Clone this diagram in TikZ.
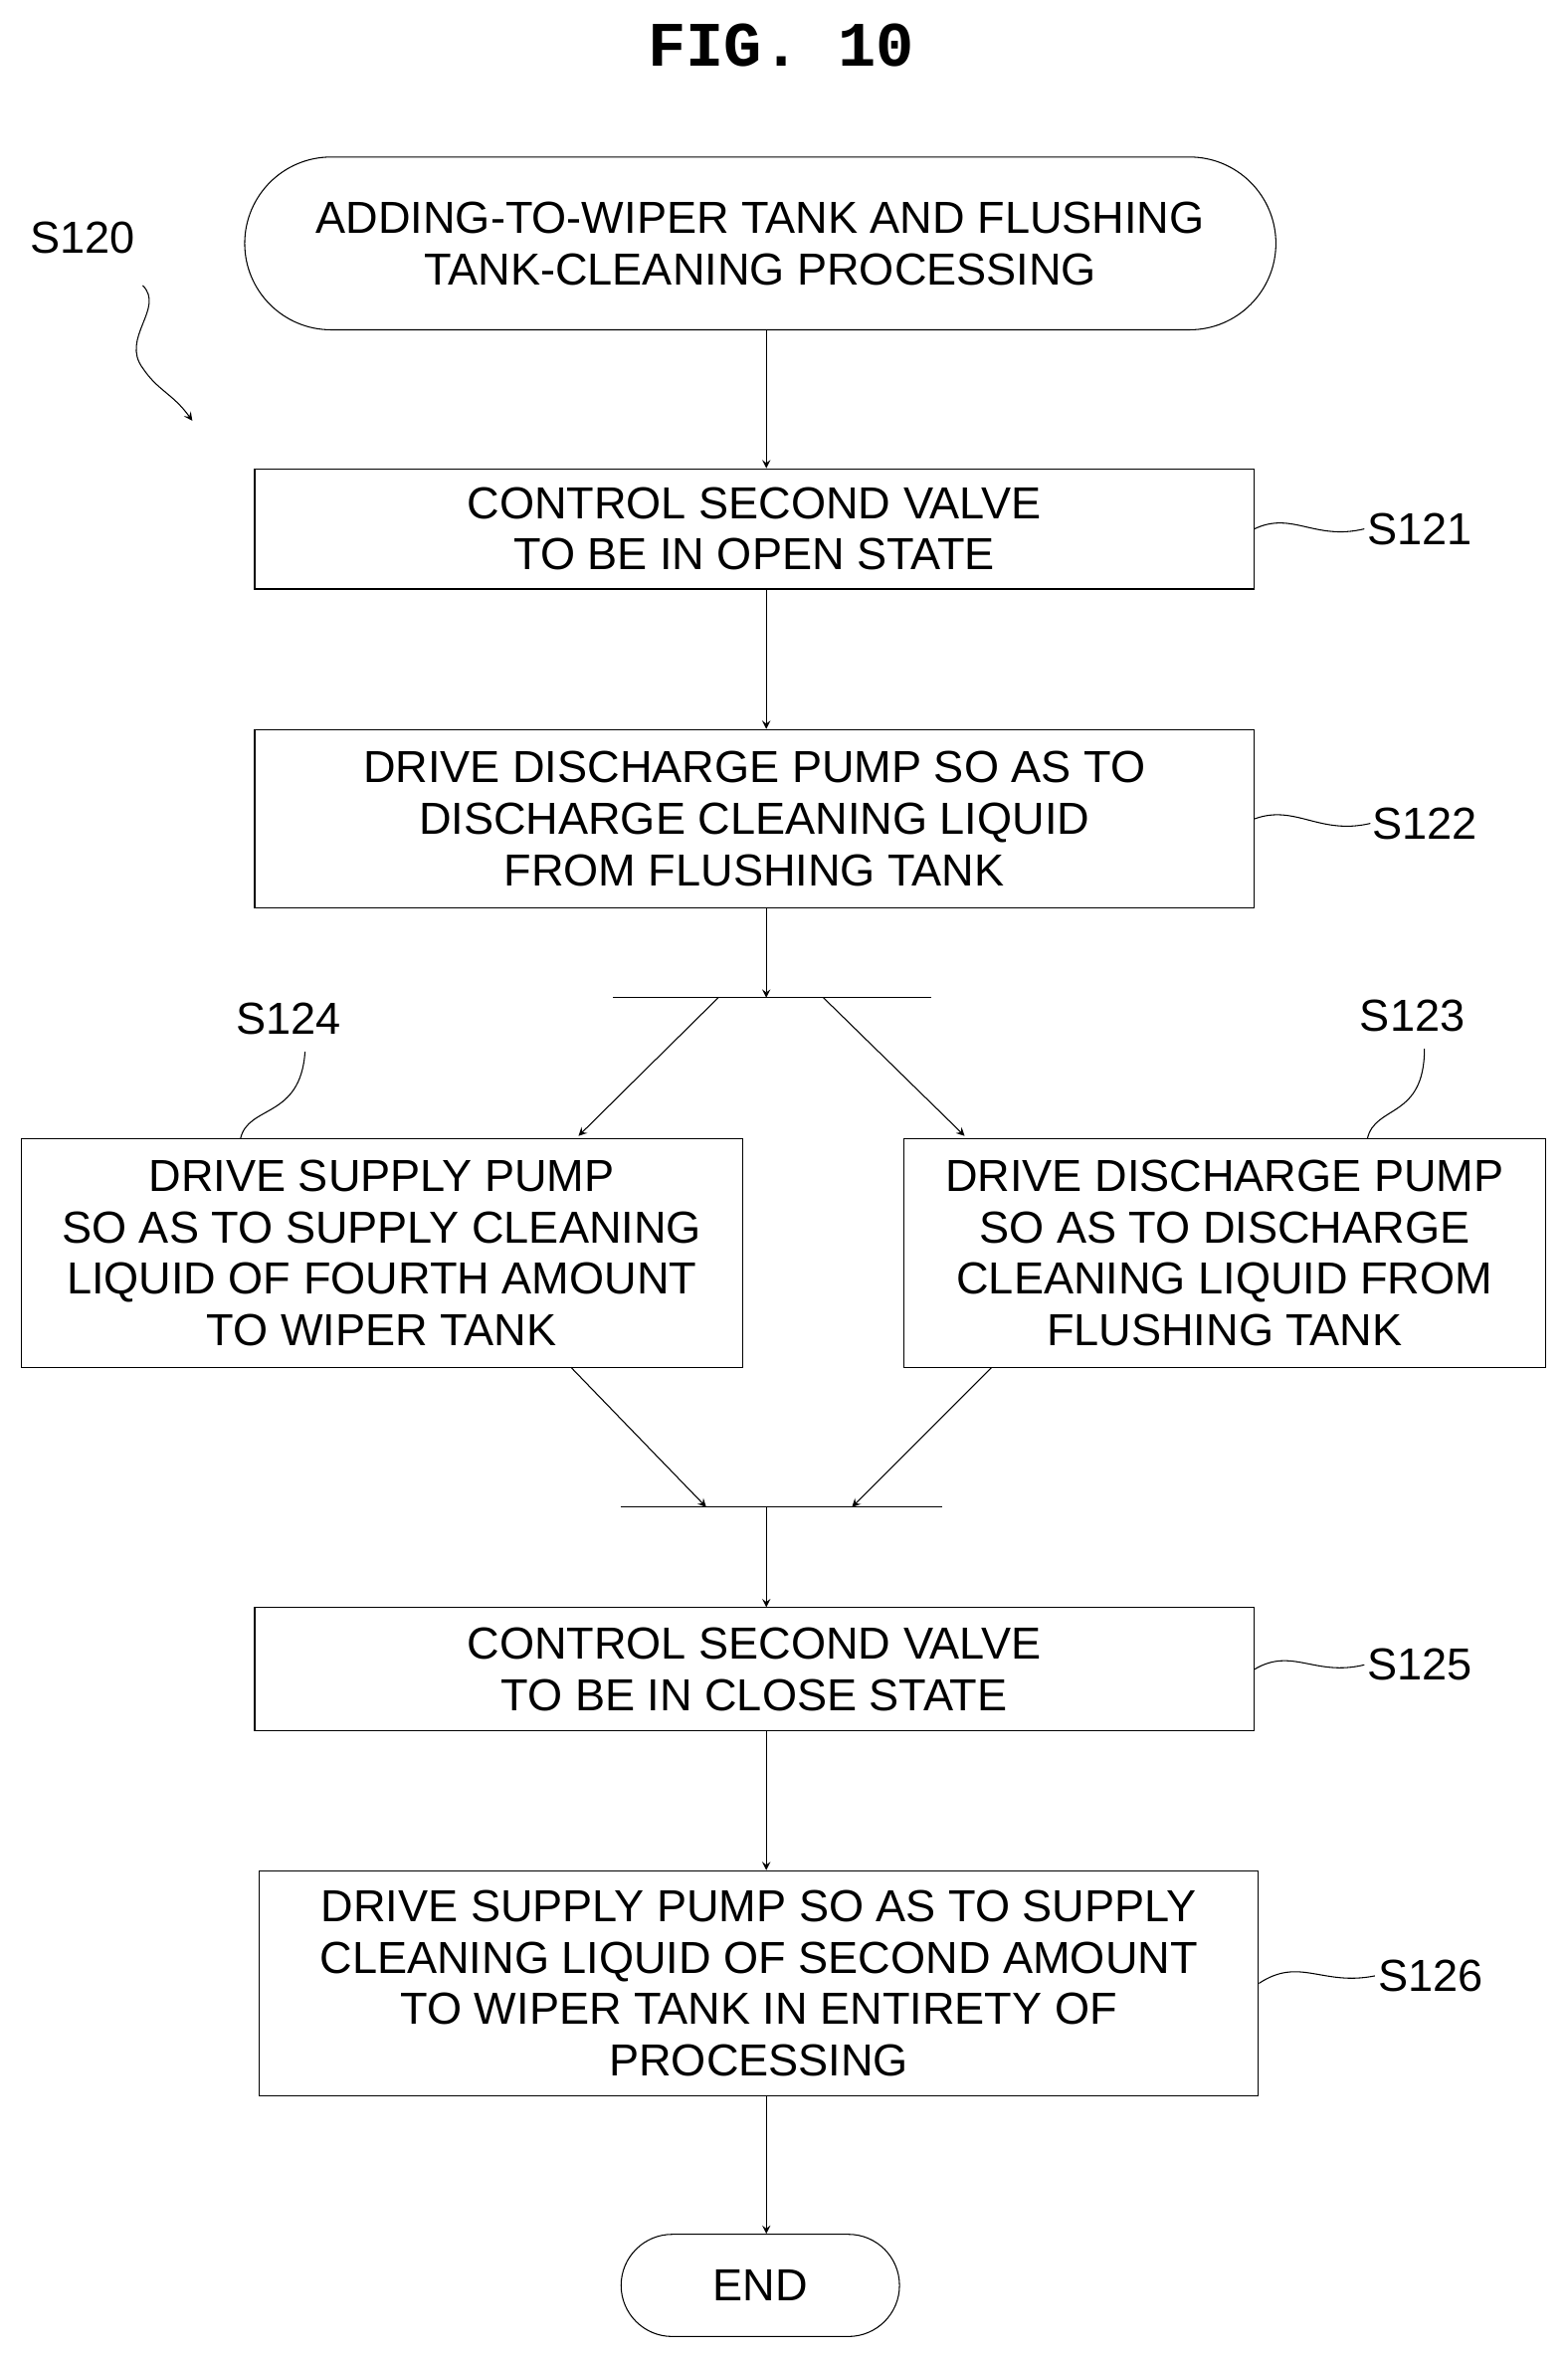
\documentclass[tikz,border=0pt]{standalone}
\usepackage{fontspec}
\setmainfont{Liberation Sans}
\newfontfamily\figfont{Liberation Mono}
\usetikzlibrary{shapes.misc}
\tikzset{
  box/.style={draw,thin,align=center,font=\fontsize{17}{19.5}\selectfont},
  term/.style={box,rounded rectangle},
  lbl/.style={font=\fontsize{17}{19}\selectfont},
  flow/.style={->,thin},
  bar/.style={thin},
}
\begin{document}
\begin{tikzpicture}[x=0.02cm,y=-0.02cm,>=stealth]
  \useasboundingbox (0,0) rectangle (1043,1568);
  \node[font=\figfont\bfseries\fontsize{24}{26}\selectfont] (fig) at (520,30) {FIG. 10};

  % terminators and steps
  \node[term,minimum width=698*0.02cm,minimum height=115*0.02cm] (start) at (506,162)
    {ADDING-TO-WIPER TANK AND FLUSHING\\TANK-CLEANING PROCESSING};
  \node[box,minimum width=665*0.02cm,minimum height=80*0.02cm] (s121) at (502,352)
    {CONTROL SECOND VALVE\\TO BE IN OPEN STATE};
  \node[box,minimum width=665*0.02cm,minimum height=119*0.02cm] (s122) at (502,545)
    {DRIVE DISCHARGE PUMP SO AS TO\\DISCHARGE CLEANING LIQUID\\FROM FLUSHING TANK};
  \node[box,minimum width=480*0.02cm,minimum height=152*0.02cm] (s124) at (254,834)
    {DRIVE SUPPLY PUMP\\SO AS TO SUPPLY CLEANING\\LIQUID OF FOURTH AMOUNT\\TO WIPER TANK};
  \node[box,minimum width=427*0.02cm,minimum height=152*0.02cm] (s123) at (815,834)
    {DRIVE DISCHARGE PUMP\\SO AS TO DISCHARGE\\CLEANING LIQUID FROM\\FLUSHING TANK};
  \node[box,minimum width=665*0.02cm,minimum height=82*0.02cm] (s125) at (502,1111)
    {CONTROL SECOND VALVE\\TO BE IN CLOSE STATE};
  \node[box,minimum width=665*0.02cm,minimum height=150*0.02cm] (s126) at (505,1320)
    {DRIVE SUPPLY PUMP SO AS TO SUPPLY\\CLEANING LIQUID OF SECOND AMOUNT\\TO WIPER TANK IN ENTIRETY OF\\PROCESSING};
  \node[term,minimum width=197*0.02cm,minimum height=68*0.02cm] (end) at (506,1521) {END};

  % synchronisation bars
  \coordinate (b1l) at (408,664); \coordinate (b1r) at (620,664);
  \coordinate (b2l) at (413,1003); \coordinate (b2r) at (627,1003);
  \draw[bar] (b1l) -- (b1r);
  \draw[bar] (b2l) -- (b2r);
  \coordinate (b1) at (510,664); \coordinate (b2) at (510,1003);
  \coordinate (b1a) at (478,664); \coordinate (b1b) at (548,664);
  \coordinate (b2a) at (470,1003); \coordinate (b2b) at (567,1003);

  % connectors
  \draw[flow] (start.south-|b1) -- (s121.north-|b1);
  \draw[flow] (s121.south-|b1) -- (s122.north-|b1);
  \draw[flow] (s122.south-|b1) -- (b1);
  \draw[flow] (b1a) -- (385,756);
  \draw[flow] (b1b) -- (642,756);
  \draw[flow] (380,910) -- (b2a);
  \draw[flow] (660,910) -- (b2b);
  \draw[flow] (b2) -- (s125.north-|b2);
  \draw[flow] (s125.south-|b2) -- (s126.north-|b2);
  \draw[flow] (s126.south-|b2) -- (end.north-|b2);

  % step labels
  \node[lbl] (l120) at (55,158) {S120};
  \draw[->] (95,190) .. controls (110,205) and (80,225) .. (95,245)
     .. controls (105,260) and (115,262) .. (128,280);
  \node[lbl] (l121) at (945,352) {S121};
  \draw (s121.east) .. controls (860,340) and (875,360) .. (908,352);
  \node[lbl] (l122) at (948,548) {S122};
  \draw (s122.east) .. controls (862,535) and (878,556) .. (912,548);
  \node[lbl] (l124) at (192,678) {S124};
  \draw (160,758) .. controls (165,735) and (200,745) .. (203,700);
  \node[lbl] (l123) at (940,676) {S123};
  \draw (910,758) .. controls (915,735) and (948,745) .. (948,698);
  \node[lbl] (l125) at (945,1108) {S125};
  \draw (s125.east) .. controls (860,1096) and (875,1116) .. (908,1108);
  \node[lbl] (l126) at (952,1315) {S126};
  \draw (s126.east) .. controls (865,1302) and (880,1322) .. (915,1315);
\end{tikzpicture}
\end{document}
